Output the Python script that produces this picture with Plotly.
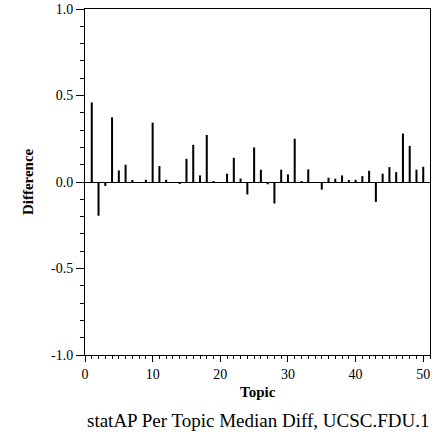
import plotly.graph_objects as go

topics = list(range(1, 51))
diffs = [0.46, -0.195, -0.023, 0.374, 0.067, 0.10, 0.01, -0.005, 0.013, 0.343,
         0.092, 0.013, 0.0, -0.01, 0.134, 0.215, 0.038, 0.272, 0.005, 0.0,
         0.048, 0.14, 0.02, -0.072, 0.20, 0.071, -0.013, -0.124, 0.071, 0.044,
         0.25, 0.003, 0.073, -0.003, -0.044, 0.025, 0.019, 0.038, 0.01, 0.013,
         0.034, 0.065, -0.115, 0.048, 0.086, 0.057, 0.28, 0.209, 0.071, 0.088]
y_tickvals = [-1.0, -0.5, 0.0, 0.5, 1.0]
y_ticktext = ["-1.0", "-0.5", "0.0", "0.5", "1.0"]
x_tickvals = [0, 10, 20, 30, 40, 50]

font = "Liberation Serif, Times New Roman, serif"

fig = go.Figure(go.Bar(x=topics, y=diffs, width=0.3,
                       marker=dict(color="black", line=dict(width=0))))

fig.update_layout(
    width=432, height=435,
    margin=dict(l=84.5, r=1.5, t=9, b=80),
    plot_bgcolor="white", paper_bgcolor="white",
    showlegend=False,
    font=dict(family=font, size=14, color="black"),
    xaxis=dict(range=[0, 51], tickvals=x_tickvals, ticks="outside", ticklen=6,
               tickwidth=1, tickcolor="black", showline=True, linecolor="black",
               linewidth=1, mirror=True, showgrid=False, zeroline=False,
               minor=dict(dtick=1, ticks="outside", ticklen=3, tickcolor="black",
                          showgrid=False),
               tickfont=dict(family=font, size=14)),
    yaxis=dict(range=[-1, 1], tickvals=y_tickvals, ticktext=y_ticktext,
               ticks="outside", ticklen=8, tickwidth=1, tickcolor="black",
               showline=True, linecolor="black", linewidth=1, mirror=True,
               showgrid=False, zeroline=True, zerolinecolor="black",
               zerolinewidth=1,
               minor=dict(dtick=0.1, ticks="outside", ticklen=4,
                          tickcolor="black", showgrid=False),
               tickfont=dict(family=font, size=14)),
    annotations=[
        dict(text="<b>Topic</b>", x=0.5, y=-0.107, xref="paper", yref="paper",
             xanchor="center", yanchor="middle", showarrow=False,
             font=dict(family=font, size=15)),
        dict(text="<b>Difference</b>", x=-0.165, y=0.5, xref="paper",
             yref="paper", xanchor="center", yanchor="middle", textangle=-90,
             showarrow=False, font=dict(family=font, size=15)),
        dict(text="statAP Per Topic Median Diff, UCSC.FDU.1", x=0.5, y=-0.19,
             xref="paper", yref="paper", xanchor="center", yanchor="middle",
             showarrow=False, font=dict(family=font, size=19)),
    ],
)

fig.write_html("out.html",
               config={"displayModeBar": False},
               post_script="document.body.style.margin='0';"
                           "document.body.style.overflow='hidden';")
